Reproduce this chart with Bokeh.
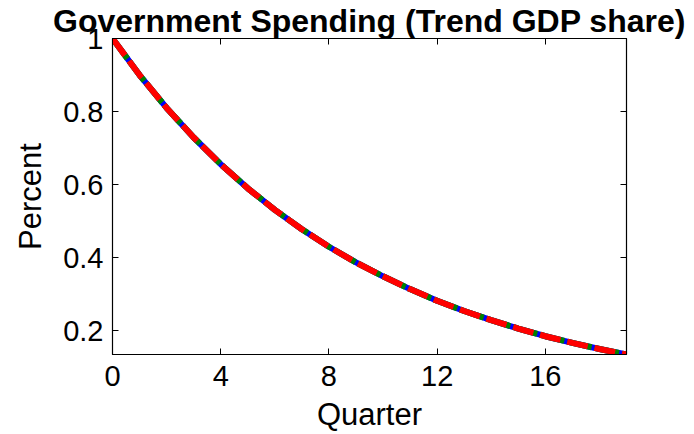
from bokeh.plotting import figure
from bokeh.models import LinearAxis, FixedTicker, Range1d
from bokeh.embed import file_html
from bokeh.resources import INLINE

quarters = list(range(20))
series_blue = [1.0, 0.9, 0.81, 0.729, 0.656, 0.590, 0.531, 0.478, 0.430, 0.387,
               0.349, 0.314, 0.282, 0.254, 0.229, 0.206, 0.185, 0.167, 0.150, 0.135]
series_green = list(series_blue)
series_red = list(series_blue)
x_ticks = [0, 4, 8, 12, 16]
y_ticks = [0.2, 0.4, 0.6, 0.8, 1.0]

FONT = "Liberation Sans"

p = figure(width=694, height=434, output_backend="svg", toolbar_location=None,
           x_range=Range1d(0, 19), y_range=Range1d(0.135, 1.0),
           min_border_left=112, min_border_right=68, min_border_top=38, min_border_bottom=80,
           title="Government Spending (Trend GDP share)")
p.title.text_font = FONT
p.title.text_font_size = "32px"
p.title.text_font_style = "bold"
p.title.text_color = "black"
p.title.align = "center"
p.title.offset = 0
p.title.standoff = 0

p.xgrid.visible = False
p.ygrid.visible = False
p.outline_line_color = "black"
p.outline_line_width = 1.2
p.background_fill_color = "white"
p.border_fill_color = "white"

for ax in (p.xaxis[0], p.yaxis[0]):
    ax.major_label_text_font = FONT
    ax.major_label_text_font_size = "29px"
    ax.axis_label_text_font = FONT
    ax.axis_label_text_font_size = "31px"
    ax.axis_label_text_font_style = "normal"
    ax.major_tick_in = 6
    ax.major_tick_out = 0
    ax.minor_tick_in = 0
    ax.minor_tick_out = 0
    ax.axis_line_color = "black"
    ax.major_tick_line_color = "black"
    ax.major_label_text_color = "black"
    ax.axis_label_text_color = "black"

p.xaxis[0].ticker = FixedTicker(ticks=x_ticks)
p.yaxis[0].ticker = FixedTicker(ticks=y_ticks)
p.yaxis[0].major_label_overrides = {1.0: "1", 1: "1"}
p.xaxis[0].axis_label = "Quarter"
p.yaxis[0].axis_label = "Percent"
p.xaxis[0].major_label_standoff = 11
p.xaxis[0].axis_label_standoff = 8
p.yaxis[0].major_label_standoff = 9
p.yaxis[0].axis_label_standoff = 12

top_ax = LinearAxis(ticker=FixedTicker(ticks=x_ticks),
                    major_label_overrides={t: "" for t in x_ticks},
                    major_label_standoff=0, axis_label_standoff=0,
                    major_tick_in=6, major_tick_out=0, minor_tick_in=0, minor_tick_out=0,
                    axis_line_color="black")
right_ax = LinearAxis(ticker=FixedTicker(ticks=y_ticks),
                      major_label_overrides={t: "" for t in y_ticks},
                      major_label_standoff=0, axis_label_standoff=0,
                      major_tick_in=6, major_tick_out=0, minor_tick_in=0, minor_tick_out=0,
                      axis_line_color="black")
p.add_layout(top_ax, "above")
p.add_layout(right_ax, "right")

p.line(quarters, series_blue, line_color="blue", line_width=6)
p.line(quarters, series_green, line_color="green", line_width=6, line_dash="25 3")
p.line(quarters, series_red, line_color="red", line_width=6, line_dash="21 7")

open("out.html", "w").write(file_html(p, INLINE))
